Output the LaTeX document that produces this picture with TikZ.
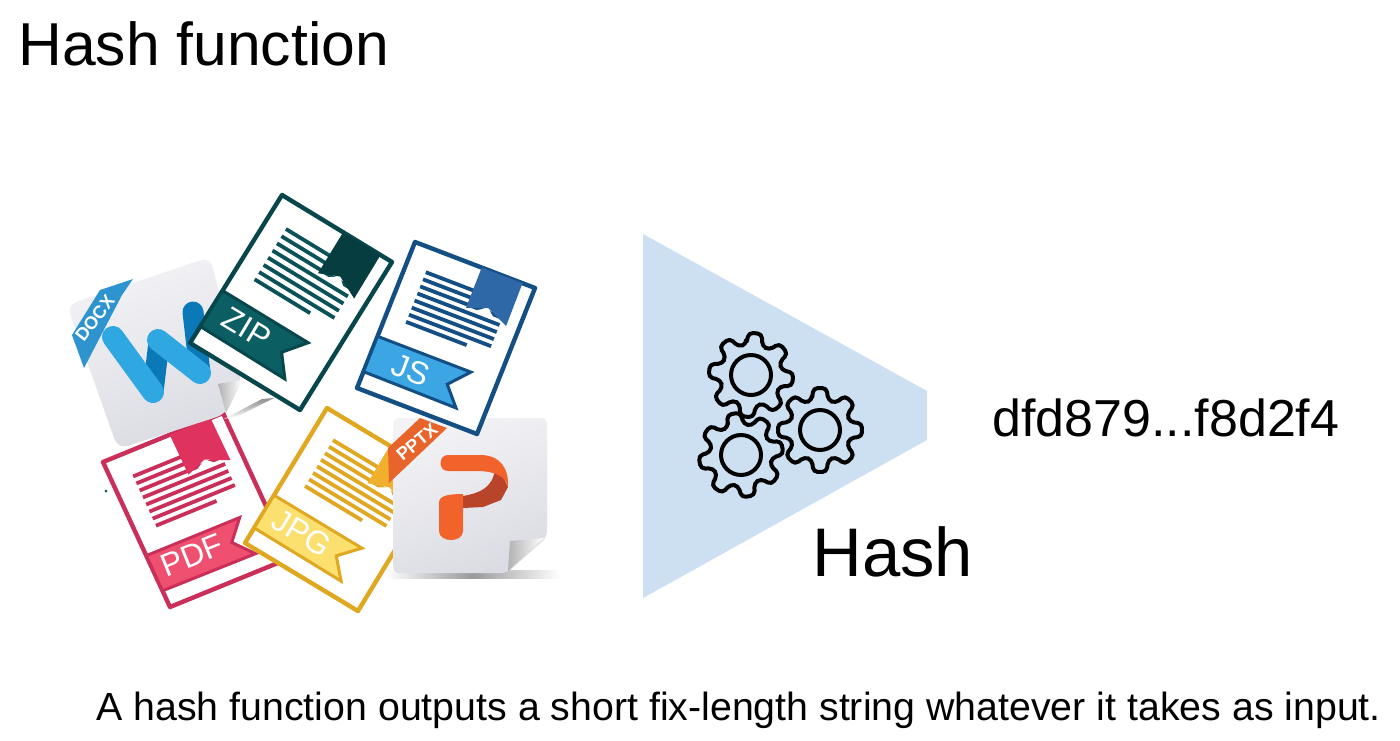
\documentclass[tikz,border=0pt]{standalone}
\usepackage{fontspec}
\setmainfont{Liberation Sans}
\definecolor{zipB}{HTML}{07474C}\definecolor{zipM}{HTML}{053D40}\definecolor{zipF}{HTML}{0B5F63}\definecolor{zipL}{HTML}{0A5257}
\definecolor{jsB}{HTML}{134E85}\definecolor{jsM}{HTML}{2E68A6}\definecolor{jsF}{HTML}{3BA6E3}\definecolor{jsL}{HTML}{134E85}
\definecolor{pdfB}{HTML}{C92F58}\definecolor{pdfM}{HTML}{E0325E}\definecolor{pdfF}{HTML}{F0506F}\definecolor{pdfL}{HTML}{C92F58}
\definecolor{jpgB}{HTML}{E0A720}\definecolor{jpgM}{HTML}{F0B02E}\definecolor{jpgF}{HTML}{FBDF6F}\definecolor{jpgL}{HTML}{E0A720}
\definecolor{tri}{HTML}{CDE0F2}
\definecolor{wlight}{HTML}{2FA8E2}\definecolor{wdark}{HTML}{0B78B8}\definecolor{wrib}{HTML}{2E94CF}
\definecolor{porange}{HTML}{F2622B}\definecolor{pdark}{HTML}{B8452A}\definecolor{prib}{HTML}{E8642A}
\definecolor{pagea}{HTML}{F3F3F6}\definecolor{pageb}{HTML}{DBDCE3}
\tikzset{
  x=0.5pt,y=-0.5pt,
  bigtext/.style={anchor=base west,inner sep=0pt,text=black},
  gearline/.style={draw=black,line width=2pt,line join=round},
  ribbontext/.style={text=white,font=\fontsize{9}{9}\selectfont\bfseries,inner sep=0pt}
}
% #1 top-left, #2 #3 u, #4 #5 v (pixels), #6 rotation, #7 colour prefix, #8 label, #9 label position
\newcommand{\docfile}[9]{%
  \begin{scope}[shift={(#1)},x={({#2*0.5pt},{-(#3)*0.5pt})},y={({#4*0.5pt},{-(#5)*0.5pt})}]
    \draw[#7B,fill=white,line width=2.2pt,line join=round] (0,0) -- (1,0) -- (1,1) -- (0,1) -- cycle;
    \foreach \i in {0,...,6}{
      \draw[#7L,line width=1.9pt] (.165,{.155+.0485*\i}) -- (.85,{.155+.0485*\i});
    }
    \draw[#7L,line width=1.9pt] (.165,.495) -- (.67,.495);
    \fill[white] (.718,.226) -- (.64,.265) -- (.80,.28) -- cycle;
    \fill[#7M] (.556,0) -- (.896,0) -- (.90,.292) -- (.718,.226) -- (.558,.276) -- cycle;
    \draw[#7B,fill=#7F,line width=1.5pt,line join=miter] (0,.646) -- (.778,.646) -- (.642,.772) -- (.773,.893) -- (0,.888) -- cycle;
    \node[text=white,rotate=#6,font=\fontsize{16}{16}\selectfont,inner sep=0pt] at (#9) {#8};
  \end{scope}}
% #1 centre, #2 tooth offset
\newcommand{\gearicon}[2]{%
  \begin{scope}[shift={(#1)}]
    \draw[gearline,rounded corners=2.2pt] ({#2-15}:31)
      \foreach \t in {0,45,...,315}{
        -- ({#2+\t-15}:31) -- ({#2+\t-9}:42.5) -- ({#2+\t+9}:42.5) -- ({#2+\t+15}:31)
      } -- cycle;
    \draw[gearline] (0,0) circle (20);
  \end{scope}}
\begin{document}
\begin{tikzpicture}
\useasboundingbox (0,0) rectangle (1400,740);
\fill[white] (0,0) rectangle (1400,740);
% title
\node[bigtext,font=\fontsize{30.3}{30.3}\selectfont] (title) at (18,65) {Hash function};
% PDF
\docfile{103,462}{120}{-49}{67}{145}{22}{pdf}{PDF}{.323,.75}
\fill[zipL] (106,491) circle (1.5);
% Word page
\shade[left color=gray!90,right color=white,shading angle=0] (224,419) -- (262,399) -- (274,398) -- (240,415) -- cycle;
\shade[top color=pagea,bottom color=pageb,shading angle=20,rounded corners=5pt]
  (67,305) -- (210,257) -- (242,380) -- (226,414) -- (118,449) -- cycle;
\shade[left color=gray!60,right color=white] (218,384) -- (242,380) -- (226,413) -- cycle;
% W ribbon
\draw[wdark,line width=10.5pt,line cap=round] (153,392) -- (159,342);
\draw[wdark,line width=10.5pt,line cap=round] (200,373) -- (193,312);
\draw[wlight,line width=11pt,line cap=round] (113,337) -- (153,392);
\draw[wlight,line width=11pt,line cap=round] (158,340) -- (200,373);
\fill[wrib] (72,335) -- (100,290) -- (133,279) -- (122,295) -- (84,368) -- cycle;
\node[ribbontext,rotate=52] (docx) at (95,318) {DOCX};
% ZIP
\docfile{282,195}{110}{67}{-92}{148}{-31}{zip}{ZIP}{.314,.756}
% JPG
\docfile{327,408}{113}{68}{-82}{135}{-31}{jpg}{JPG}{.33,.76}
% PPTX page
\shade[left color=white,right color=white,middle color=gray!80] (385,570) rectangle (560,578);
\shade[top color=pagea,bottom color=pageb,shading angle=20,rounded corners=3pt]
  (393,418) -- (547,418) -- (547,537) -- (507,573) -- (393,573) -- cycle;
\shade[left color=gray!60,right color=white] (510,541) -- (544,538) -- (508,571) -- cycle;
\fill[prib] (388,448) -- (420,418) -- (447,428) -- (389,483) -- cycle;
\node[ribbontext,rotate=40] (pptx) at (417,442) {PPTX};
% P
\fill[pdark] (463,496) .. controls (480,493) and (492,488) .. (495,470) -- (503,477) -- (508,487) -- (501,500) -- (483,507) -- (463,508) -- cycle;
\fill[porange] (448,455) -- (480,455) .. controls (500,455) and (509,468) .. (508,487)
  .. controls (506,478) and (498,472) .. (480,471) -- (448,471) .. controls (438,471) and (438,455) .. (448,455) -- cycle;
\fill[porange] (439,503) .. controls (439,496) and (447,494) .. (463,494) -- (463,531)
  .. controls (463,543) and (439,543) .. (439,531) -- cycle;
% JS
\docfile{415,242}{120}{46}{-58}{146}{-21}{js}{JS}{.337,.77}
% Triangle
\fill[tri] (643,234) -- (927,391) -- (927,440) -- (643,598) -- cycle;
% Gears
\gearicon{751,375}{-84}
\gearicon{820,430}{-90}
\gearicon{741,455}{-100}
% texts
\node[bigtext,font=\fontsize{34.4}{34.4}\selectfont] (hash) at (812,576) {Hash};
\node[bigtext,font=\fontsize{26}{26}\selectfont] (digest) at (992,436) {dfd879...f8d2f4};
\node[bigtext,font=\fontsize{19.65}{19.65}\selectfont] (caption) at (96,720) {A hash function outputs a short fix-length string whatever it takes as input.};
\end{tikzpicture}
\end{document}
